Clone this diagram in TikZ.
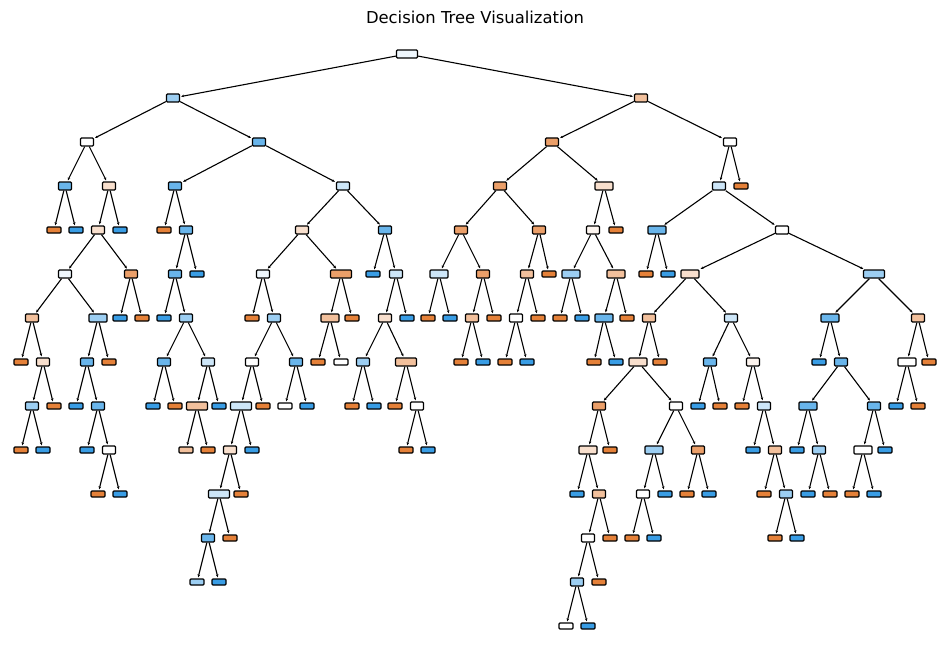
\documentclass[tikz,border=0pt]{standalone}
\usepackage{fontspec}
\setmainfont{DejaVu Sans}
\usepackage{tikz}
\usetikzlibrary{arrows.meta}
\definecolor{sko}{HTML}{E58139}
\definecolor{skb}{HTML}{399DE5}
\colorlet{o0}{sko!8!white}
\colorlet{o1}{sko!25!white}
\colorlet{o2}{sko!50!white}
\colorlet{o3}{sko!76!white}
\colorlet{b0}{skb!8!white}
\colorlet{b1}{skb!25!white}
\colorlet{b2}{skb!50!white}
\colorlet{b3}{skb!76!white}
\tikzstyle{splitbox} = [rectangle, rounded corners=1pt, draw=black, line width=1.3pt, minimum width=13pt, minimum height=8pt, inner sep=0pt]
\tikzstyle{leafbox} = [splitbox, minimum width=14pt, minimum height=6pt]
\tikzstyle{midbox} = [minimum width=18pt]
\tikzstyle{widebox} = [minimum width=21pt]
\tikzstyle{treearrow} = [-{Stealth[length=3pt, width=2.5pt]}, line width=1.1pt, shorten >=1pt]

\begin{document}
\begin{tikzpicture}[x=1pt, y=-1pt]
\useasboundingbox (0,0) rectangle (950,658);
\node (title) at (475,17.5) {\fontsize{16.4}{20}\selectfont Decision Tree Visualization};

% left half
\node (n0) [splitbox, widebox, fill=b0] at (407,54) {};
\node (n1) [splitbox, fill=b2] at (173,98) {};
\node (n2) [splitbox, fill=white] at (87,142) {};
\node (n3) [splitbox, fill=b3] at (65,186) {};
\node (n4) [leafbox, fill=sko] at (54,230) {};
\node (n5) [leafbox, fill=skb] at (76,230) {};
\node (n6) [splitbox, fill=o1] at (109,186) {};
\node (n7) [splitbox, fill=o1] at (98,230) {};
\node (n8) [splitbox, fill=b0] at (65,274) {};
\node (n9) [splitbox, fill=o2] at (32,318) {};
\node (n10) [leafbox, fill=sko] at (21,362) {};
\node (n11) [splitbox, fill=o1] at (43,362) {};
\node (n12) [splitbox, fill=b2] at (32,406) {};
\node (n13) [leafbox, fill=sko] at (21,450) {};
\node (n14) [leafbox, fill=skb] at (43,450) {};
\node (n15) [leafbox, fill=sko] at (54,406) {};
\node (n16) [splitbox, midbox, fill=b2] at (98,318) {};
\node (n17) [splitbox, fill=b3] at (87,362) {};
\node (n18) [leafbox, fill=skb] at (76,406) {};
\node (n19) [splitbox, fill=b3] at (98,406) {};
\node (n20) [leafbox, fill=skb] at (87,450) {};
\node (n21) [splitbox, fill=white] at (109,450) {};
\node (n22) [leafbox, fill=sko] at (98,494) {};
\node (n23) [leafbox, fill=skb] at (120,494) {};
\node (n24) [leafbox, fill=sko] at (109,362) {};
\node (n25) [splitbox, fill=o3] at (131,274) {};
\node (n26) [leafbox, fill=skb] at (120,318) {};
\node (n27) [leafbox, fill=sko] at (142,318) {};
\node (n28) [leafbox, fill=skb] at (120,230) {};
\node (n29) [splitbox, fill=b3] at (259,142) {};
\node (n30) [splitbox, fill=b3] at (175,186) {};
\node (n31) [leafbox, fill=sko] at (164,230) {};
\node (n32) [splitbox, fill=b3] at (186,230) {};
\node (n33) [splitbox, fill=b3] at (175,274) {};
\node (n34) [leafbox, fill=skb] at (164,318) {};
\node (n35) [splitbox, fill=b2] at (186,318) {};
\node (n36) [splitbox, fill=b3] at (164,362) {};
\node (n37) [leafbox, fill=skb] at (153,406) {};
\node (n38) [leafbox, fill=sko] at (175,406) {};
\node (n39) [splitbox, fill=b1] at (208,362) {};
\node (n40) [splitbox, widebox, fill=o2] at (197,406) {};
\node (n41) [leafbox, fill=o2] at (186,450) {};
\node (n42) [leafbox, fill=sko] at (208,450) {};
\node (n43) [leafbox, fill=skb] at (219,406) {};
\node (n44) [leafbox, fill=skb] at (197,274) {};
\node (n45) [splitbox, fill=b1] at (343,186) {};
\node (n46) [splitbox, fill=o1] at (302,230) {};
\node (n47) [splitbox, fill=b0] at (263,274) {};
\node (n48) [leafbox, fill=sko] at (252,318) {};
\node (n49) [splitbox, fill=b2] at (274,318) {};
\node (n50) [splitbox, fill=white] at (252,362) {};
\node (n51) [splitbox, widebox, fill=b1] at (241,406) {};
\node (n52) [splitbox, fill=o1] at (230,450) {};
\node (n53) [splitbox, widebox, fill=b1] at (219,494) {};
\node (n54) [splitbox, fill=b3] at (208,538) {};
\node (n55) [leafbox, fill=b2] at (197,582) {};
\node (n56) [leafbox, fill=skb] at (219,582) {};
\node (n57) [leafbox, fill=sko] at (230,538) {};
\node (n58) [leafbox, fill=sko] at (241,494) {};
\node (n59) [leafbox, fill=skb] at (252,450) {};
\node (n60) [leafbox, fill=sko] at (263,406) {};
\node (n61) [splitbox, fill=b3] at (296,362) {};
\node (n62) [leafbox, fill=white] at (285,406) {};
\node (n63) [leafbox, fill=skb] at (307,406) {};
\node (n64) [splitbox, widebox, fill=o3] at (341,274) {};
\node (n65) [splitbox, midbox, fill=o2] at (330,318) {};
\node (n66) [leafbox, fill=sko] at (318,362) {};
\node (n67) [leafbox, fill=white] at (341,362) {};
\node (n68) [leafbox, fill=sko] at (352,318) {};
\node (n69) [splitbox, fill=b3] at (385,230) {};
\node (n70) [leafbox, fill=skb] at (373,274) {};
\node (n71) [splitbox, fill=b1] at (396,274) {};
\node (n72) [splitbox, fill=o1] at (385,318) {};
\node (n73) [splitbox, fill=b2] at (363,362) {};
\node (n74) [leafbox, fill=sko] at (352,406) {};
\node (n75) [leafbox, fill=skb] at (374,406) {};
\node (n76) [splitbox, widebox, fill=o2] at (406,362) {};
\node (n77) [leafbox, fill=sko] at (395,406) {};
\node (n78) [splitbox, fill=white] at (417,406) {};
\node (n79) [leafbox, fill=sko] at (406,450) {};
\node (n80) [leafbox, fill=skb] at (428,450) {};
\node (n81) [leafbox, fill=skb] at (407,318) {};

% right half
\node (n82) [splitbox, fill=o2] at (641,98) {};
\node (n83) [splitbox, fill=o3] at (552,142) {};
\node (n84) [splitbox, fill=o3] at (500,186) {};
\node (n85) [splitbox, fill=o3] at (461,230) {};
\node (n86) [splitbox, midbox, fill=b1] at (439,274) {};
\node (n87) [leafbox, fill=sko] at (428,318) {};
\node (n88) [leafbox, fill=skb] at (450,318) {};
\node (n89) [splitbox, fill=o3] at (483,274) {};
\node (n90) [splitbox, fill=o2] at (472,318) {};
\node (n91) [leafbox, fill=sko] at (461,362) {};
\node (n92) [leafbox, fill=skb] at (483,362) {};
\node (n93) [leafbox, fill=sko] at (494,318) {};
\node (n94) [splitbox, fill=o3] at (539,230) {};
\node (n95) [splitbox, fill=o2] at (527,274) {};
\node (n96) [splitbox, fill=white] at (516,318) {};
\node (n97) [leafbox, fill=sko] at (505,362) {};
\node (n98) [leafbox, fill=skb] at (527,362) {};
\node (n99) [leafbox, fill=sko] at (538,318) {};
\node (n100) [leafbox, fill=sko] at (549,274) {};
\node (n101) [splitbox, midbox, fill=o1] at (604,186) {};
\node (n102) [splitbox, fill=o0] at (593,230) {};
\node (n103) [splitbox, midbox, fill=b2] at (571,274) {};
\node (n104) [leafbox, fill=sko] at (560,318) {};
\node (n105) [leafbox, fill=skb] at (582,318) {};
\node (n106) [splitbox, midbox, fill=o2] at (616,274) {};
\node (n107) [splitbox, midbox, fill=b3] at (604,318) {};
\node (n108) [leafbox, fill=sko] at (594,362) {};
\node (n109) [leafbox, fill=skb] at (616,362) {};
\node (n110) [leafbox, fill=sko] at (627,318) {};
\node (n111) [leafbox, fill=sko] at (616,230) {};
\node (n112) [splitbox, fill=white] at (730,142) {};
\node (n113) [splitbox, fill=b1] at (719,186) {};
\node (n114) [splitbox, midbox, fill=b3] at (657,230) {};
\node (n115) [leafbox, fill=sko] at (646,274) {};
\node (n116) [leafbox, fill=skb] at (668,274) {};
\node (n117) [splitbox, fill=white] at (782,230) {};
\node (n118) [splitbox, midbox, fill=o1] at (690,274) {};
\node (n119) [splitbox, fill=o2] at (649,318) {};
\node (n120) [splitbox, midbox, fill=o1] at (638,362) {};
\node (n121) [splitbox, fill=o3] at (599,406) {};
\node (n122) [splitbox, midbox, fill=o1] at (588,450) {};
\node (n123) [leafbox, fill=skb] at (577,494) {};
\node (n124) [splitbox, fill=o2] at (599,494) {};
\node (n125) [splitbox, fill=white] at (588,538) {};
\node (n126) [splitbox, fill=b2] at (577,582) {};
\node (n127) [leafbox, fill=white] at (566,626) {};
\node (n128) [leafbox, fill=skb] at (588,626) {};
\node (n129) [leafbox, fill=sko] at (599,582) {};
\node (n130) [leafbox, fill=sko] at (610,538) {};
\node (n131) [leafbox, fill=sko] at (610,450) {};
\node (n132) [splitbox, fill=white] at (676,406) {};
\node (n133) [splitbox, midbox, fill=b2] at (654,450) {};
\node (n134) [splitbox, fill=white] at (643,494) {};
\node (n135) [leafbox, fill=sko] at (632,538) {};
\node (n136) [leafbox, fill=skb] at (654,538) {};
\node (n137) [leafbox, fill=skb] at (665,494) {};
\node (n138) [splitbox, fill=o3] at (698,450) {};
\node (n139) [leafbox, fill=sko] at (687,494) {};
\node (n140) [leafbox, fill=skb] at (709,494) {};
\node (n141) [leafbox, fill=sko] at (660,362) {};
\node (n142) [splitbox, fill=b1] at (731,318) {};
\node (n143) [splitbox, fill=b3] at (710,362) {};
\node (n144) [leafbox, fill=skb] at (698,406) {};
\node (n145) [leafbox, fill=sko] at (720,406) {};
\node (n146) [splitbox, fill=o0] at (753,362) {};
\node (n147) [leafbox, fill=sko] at (742,406) {};
\node (n148) [splitbox, fill=b1] at (764,406) {};
\node (n149) [leafbox, fill=skb] at (753,450) {};
\node (n150) [splitbox, fill=o2] at (775,450) {};
\node (n151) [leafbox, fill=sko] at (764,494) {};
\node (n152) [splitbox, fill=b2] at (786,494) {};
\node (n153) [leafbox, fill=sko] at (775,538) {};
\node (n154) [leafbox, fill=skb] at (797,538) {};
\node (n155) [splitbox, widebox, fill=b2] at (874,274) {};
\node (n156) [splitbox, midbox, fill=b3] at (830,318) {};
\node (n157) [leafbox, fill=skb] at (819,362) {};
\node (n158) [splitbox, fill=b3] at (841,362) {};
\node (n159) [splitbox, midbox, fill=b3] at (808,406) {};
\node (n160) [leafbox, fill=skb] at (797,450) {};
\node (n161) [splitbox, fill=b2] at (819,450) {};
\node (n162) [leafbox, fill=skb] at (808,494) {};
\node (n163) [leafbox, fill=sko] at (830,494) {};
\node (n164) [splitbox, fill=b3] at (874,406) {};
\node (n165) [splitbox, midbox, fill=white] at (863,450) {};
\node (n166) [leafbox, fill=sko] at (852,494) {};
\node (n167) [leafbox, fill=skb] at (874,494) {};
\node (n168) [leafbox, fill=skb] at (885,450) {};
\node (n169) [splitbox, fill=o2] at (918,318) {};
\node (n170) [splitbox, midbox, fill=white] at (907,362) {};
\node (n171) [leafbox, fill=skb] at (896,406) {};
\node (n172) [leafbox, fill=sko] at (918,406) {};
\node (n173) [leafbox, fill=sko] at (929,362) {};
\node (n174) [leafbox, fill=sko] at (741,186) {};

% arrows, one line per split
\draw[treearrow] (n0) -- (n1); \draw[treearrow] (n0) -- (n82);
\draw[treearrow] (n1) -- (n2); \draw[treearrow] (n1) -- (n29);
\draw[treearrow] (n2) -- (n3); \draw[treearrow] (n2) -- (n6);
\draw[treearrow] (n3) -- (n4); \draw[treearrow] (n3) -- (n5);
\draw[treearrow] (n6) -- (n7); \draw[treearrow] (n6) -- (n28);
\draw[treearrow] (n7) -- (n8); \draw[treearrow] (n7) -- (n25);
\draw[treearrow] (n8) -- (n9); \draw[treearrow] (n8) -- (n16);
\draw[treearrow] (n9) -- (n10); \draw[treearrow] (n9) -- (n11);
\draw[treearrow] (n11) -- (n12); \draw[treearrow] (n11) -- (n15);
\draw[treearrow] (n12) -- (n13); \draw[treearrow] (n12) -- (n14);
\draw[treearrow] (n16) -- (n17); \draw[treearrow] (n16) -- (n24);
\draw[treearrow] (n17) -- (n18); \draw[treearrow] (n17) -- (n19);
\draw[treearrow] (n19) -- (n20); \draw[treearrow] (n19) -- (n21);
\draw[treearrow] (n21) -- (n22); \draw[treearrow] (n21) -- (n23);
\draw[treearrow] (n25) -- (n26); \draw[treearrow] (n25) -- (n27);
\draw[treearrow] (n29) -- (n30); \draw[treearrow] (n29) -- (n45);
\draw[treearrow] (n30) -- (n31); \draw[treearrow] (n30) -- (n32);
\draw[treearrow] (n32) -- (n33); \draw[treearrow] (n32) -- (n44);
\draw[treearrow] (n33) -- (n34); \draw[treearrow] (n33) -- (n35);
\draw[treearrow] (n35) -- (n36); \draw[treearrow] (n35) -- (n39);
\draw[treearrow] (n36) -- (n37); \draw[treearrow] (n36) -- (n38);
\draw[treearrow] (n39) -- (n40); \draw[treearrow] (n39) -- (n43);
\draw[treearrow] (n40) -- (n41); \draw[treearrow] (n40) -- (n42);
\draw[treearrow] (n45) -- (n46); \draw[treearrow] (n45) -- (n69);
\draw[treearrow] (n46) -- (n47); \draw[treearrow] (n46) -- (n64);
\draw[treearrow] (n47) -- (n48); \draw[treearrow] (n47) -- (n49);
\draw[treearrow] (n49) -- (n50); \draw[treearrow] (n49) -- (n61);
\draw[treearrow] (n50) -- (n51); \draw[treearrow] (n50) -- (n60);
\draw[treearrow] (n51) -- (n52); \draw[treearrow] (n51) -- (n59);
\draw[treearrow] (n52) -- (n53); \draw[treearrow] (n52) -- (n58);
\draw[treearrow] (n53) -- (n54); \draw[treearrow] (n53) -- (n57);
\draw[treearrow] (n54) -- (n55); \draw[treearrow] (n54) -- (n56);
\draw[treearrow] (n61) -- (n62); \draw[treearrow] (n61) -- (n63);
\draw[treearrow] (n64) -- (n65); \draw[treearrow] (n64) -- (n68);
\draw[treearrow] (n65) -- (n66); \draw[treearrow] (n65) -- (n67);
\draw[treearrow] (n69) -- (n70); \draw[treearrow] (n69) -- (n71);
\draw[treearrow] (n71) -- (n72); \draw[treearrow] (n71) -- (n81);
\draw[treearrow] (n72) -- (n73); \draw[treearrow] (n72) -- (n76);
\draw[treearrow] (n73) -- (n74); \draw[treearrow] (n73) -- (n75);
\draw[treearrow] (n76) -- (n77); \draw[treearrow] (n76) -- (n78);
\draw[treearrow] (n78) -- (n79); \draw[treearrow] (n78) -- (n80);
\draw[treearrow] (n82) -- (n83); \draw[treearrow] (n82) -- (n112);
\draw[treearrow] (n83) -- (n84); \draw[treearrow] (n83) -- (n101);
\draw[treearrow] (n84) -- (n85); \draw[treearrow] (n84) -- (n94);
\draw[treearrow] (n85) -- (n86); \draw[treearrow] (n85) -- (n89);
\draw[treearrow] (n86) -- (n87); \draw[treearrow] (n86) -- (n88);
\draw[treearrow] (n89) -- (n90); \draw[treearrow] (n89) -- (n93);
\draw[treearrow] (n90) -- (n91); \draw[treearrow] (n90) -- (n92);
\draw[treearrow] (n94) -- (n95); \draw[treearrow] (n94) -- (n100);
\draw[treearrow] (n95) -- (n96); \draw[treearrow] (n95) -- (n99);
\draw[treearrow] (n96) -- (n97); \draw[treearrow] (n96) -- (n98);
\draw[treearrow] (n101) -- (n102); \draw[treearrow] (n101) -- (n111);
\draw[treearrow] (n102) -- (n103); \draw[treearrow] (n102) -- (n106);
\draw[treearrow] (n103) -- (n104); \draw[treearrow] (n103) -- (n105);
\draw[treearrow] (n106) -- (n107); \draw[treearrow] (n106) -- (n110);
\draw[treearrow] (n107) -- (n108); \draw[treearrow] (n107) -- (n109);
\draw[treearrow] (n112) -- (n113); \draw[treearrow] (n112) -- (n174);
\draw[treearrow] (n113) -- (n114); \draw[treearrow] (n113) -- (n117);
\draw[treearrow] (n114) -- (n115); \draw[treearrow] (n114) -- (n116);
\draw[treearrow] (n117) -- (n118); \draw[treearrow] (n117) -- (n155);
\draw[treearrow] (n118) -- (n119); \draw[treearrow] (n118) -- (n142);
\draw[treearrow] (n119) -- (n120); \draw[treearrow] (n119) -- (n141);
\draw[treearrow] (n120) -- (n121); \draw[treearrow] (n120) -- (n132);
\draw[treearrow] (n121) -- (n122); \draw[treearrow] (n121) -- (n131);
\draw[treearrow] (n122) -- (n123); \draw[treearrow] (n122) -- (n124);
\draw[treearrow] (n124) -- (n125); \draw[treearrow] (n124) -- (n130);
\draw[treearrow] (n125) -- (n126); \draw[treearrow] (n125) -- (n129);
\draw[treearrow] (n126) -- (n127); \draw[treearrow] (n126) -- (n128);
\draw[treearrow] (n132) -- (n133); \draw[treearrow] (n132) -- (n138);
\draw[treearrow] (n133) -- (n134); \draw[treearrow] (n133) -- (n137);
\draw[treearrow] (n134) -- (n135); \draw[treearrow] (n134) -- (n136);
\draw[treearrow] (n138) -- (n139); \draw[treearrow] (n138) -- (n140);
\draw[treearrow] (n142) -- (n143); \draw[treearrow] (n142) -- (n146);
\draw[treearrow] (n143) -- (n144); \draw[treearrow] (n143) -- (n145);
\draw[treearrow] (n146) -- (n147); \draw[treearrow] (n146) -- (n148);
\draw[treearrow] (n148) -- (n149); \draw[treearrow] (n148) -- (n150);
\draw[treearrow] (n150) -- (n151); \draw[treearrow] (n150) -- (n152);
\draw[treearrow] (n152) -- (n153); \draw[treearrow] (n152) -- (n154);
\draw[treearrow] (n155) -- (n156); \draw[treearrow] (n155) -- (n169);
\draw[treearrow] (n156) -- (n157); \draw[treearrow] (n156) -- (n158);
\draw[treearrow] (n158) -- (n159); \draw[treearrow] (n158) -- (n164);
\draw[treearrow] (n159) -- (n160); \draw[treearrow] (n159) -- (n161);
\draw[treearrow] (n161) -- (n162); \draw[treearrow] (n161) -- (n163);
\draw[treearrow] (n164) -- (n165); \draw[treearrow] (n164) -- (n168);
\draw[treearrow] (n165) -- (n166); \draw[treearrow] (n165) -- (n167);
\draw[treearrow] (n169) -- (n170); \draw[treearrow] (n169) -- (n173);
\draw[treearrow] (n170) -- (n171); \draw[treearrow] (n170) -- (n172);
\end{tikzpicture}
\end{document}
